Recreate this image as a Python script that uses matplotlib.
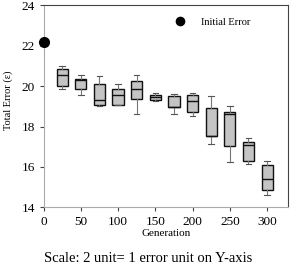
import matplotlib.pyplot as plt

plt.rcParams['font.family'] = ['Liberation Serif', 'DejaVu Serif']

# generations where boxes are drawn
generations = [25, 50, 75, 100, 125, 150, 175, 200, 225, 250, 275, 300]
whisker_hi = [20.98, 20.57, 20.52, 20.12, 20.57, 19.68, 19.59, 19.68, 19.51, 19.01, 17.43, 16.28]
q3 = [20.87, 20.37, 20.12, 19.88, 20.24, 19.58, 19.50, 19.58, 18.94, 18.72, 17.23, 16.11]
medians = [20.53, 20.32, 19.30, 19.58, 19.84, 19.46, 18.97, 19.26, 17.51, 18.64, 17.07, 15.39]
q1 = [20.00, 19.88, 19.08, 19.05, 19.38, 19.30, 18.97, 18.72, 17.51, 17.03, 16.28, 14.84]
whisker_lo = [19.88, 19.58, 19.00, 19.05, 18.60, 19.25, 18.60, 18.52, 17.15, 16.24, 16.13, 14.63]

initial_gen = [0]
initial_err = [22.2]

stats = []
for lo, a, m, b, hi in zip(whisker_lo, q1, medians, q3, whisker_hi):
    stats.append({'whislo': lo, 'q1': a, 'med': m, 'q3': b, 'whishi': hi, 'fliers': []})

fig = plt.figure(figsize=(2.97, 2.70), dpi=100)
ax = fig.add_axes([0.1465, 0.232, 0.8232, 0.748])

ax.bxp(stats, positions=generations, widths=15, patch_artist=True,
       boxprops=dict(facecolor='#c4c4c4', edgecolor='#111111', linewidth=1.0),
       medianprops=dict(color='#111111', linewidth=1.0),
       whiskerprops=dict(color='#777777', linewidth=0.8),
       capprops=dict(color='#555555', linewidth=0.8),
       manage_ticks=False)

ax.plot(initial_gen, initial_err, 'o', color='black', markersize=7,
        label='Initial Error', clip_on=False, zorder=5)

ax.set_xlim(0, 328)
ax.set_ylim(14, 24)
ax.set_xticks([0, 50, 100, 150, 200, 250, 300])
ax.set_yticks([14, 16, 18, 20, 22, 24])
ax.tick_params(labelsize=9.5, length=3, width=0.8, color='#444444', pad=3)

ax.spines['left'].set_color('#aaaaaa')
ax.spines['bottom'].set_color('#aaaaaa')
ax.spines['top'].set_color('#444444')
ax.spines['right'].set_color('#444444')

ax.set_xlabel('Generation', fontsize=8, labelpad=1)
ax.set_ylabel('Total Error (ε)', fontsize=7.5)
ax.yaxis.set_label_coords(-0.125, 0.53)

ax.legend(loc='center left', bbox_to_anchor=(0.537, 0.917), frameon=False,
          fontsize=7.5, borderaxespad=0, borderpad=0, handlelength=1,
          handletextpad=1.5, markerscale=0.85)

fig.text(0.5, 0.03, 'Scale: 2 unit= 1 error unit on Y-axis', ha='center', fontsize=10.5)

fig.savefig('out.png', dpi=100)
